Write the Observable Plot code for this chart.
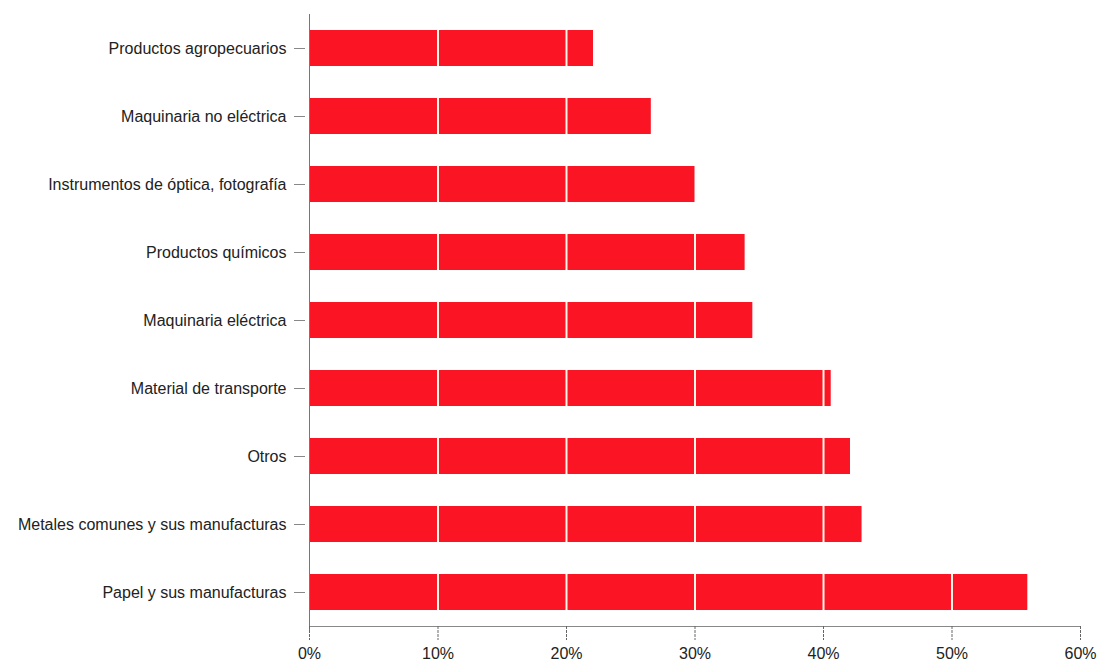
<!DOCTYPE html>
<html>
<head>
<meta charset="utf-8">
<script src="https://cdn.jsdelivr.net/npm/d3@7"></script>
<script src="https://cdn.jsdelivr.net/npm/@observablehq/plot@0.6"></script>
<style>
  html, body { margin: 0; padding: 0; background: #fff; }
</style>
</head>
<body>
<div id="chart"></div>
<script>
const categories = [
  "Productos agropecuarios",
  "Maquinaria no eléctrica",
  "Instrumentos de óptica, fotografía",
  "Productos químicos",
  "Maquinaria eléctrica",
  "Material de transporte",
  "Otros",
  "Metales comunes y sus manufacturas",
  "Papel y sus manufacturas"
];
const values = [22.1, 26.6, 30.0, 33.9, 34.5, 40.6, 42.1, 43.0, 55.9];
const xTicks = [0, 10, 20, 30, 40, 50, 60];
const gridTicks = [10, 20, 30, 40, 50];

const data = categories.map((c, i) => ({category: c, value: values[i]}));
// white separators only inside each bar
const grid = data.flatMap(d => gridTicks.filter(t => t < d.value).map(t => ({category: d.category, x: t})));

const chart = Plot.plot({
  width: 1098,
  height: 662,
  marginLeft: 309,
  marginRight: 18,
  marginTop: 14,
  marginBottom: 36,
  style: {fontFamily: "'Liberation Sans', Arial, sans-serif", fontSize: "16px", color: "#222", background: "#fff"},
  x: {domain: [0, 60]},
  y: {domain: categories, paddingInner: 0.47, paddingOuter: 0.235},
  marks: [
    Plot.barX(data, {x: "value", y: "category", fill: "#fb1424"}),
    Plot.tickX(grid, {x: "x", y: "category", stroke: "#fff6e8", strokeWidth: 2}),
    Plot.ruleX([0], {stroke: "#777", insetBottom: -4}),
    Plot.frame({anchor: "bottom", stroke: "#888", strokeDasharray: "2,1"}),
    Plot.axisX(xTicks, {tickFormat: d => d + "%", tickSize: 14, tickPadding: 7, stroke: "#666", strokeDasharray: "3,1", label: null}),
    Plot.axisY({tickSize: 11, dx: -4, tickPadding: 8, stroke: "#888", label: null})
  ]
});
document.getElementById("chart").appendChild(chart);
</script>
</body>
</html>
